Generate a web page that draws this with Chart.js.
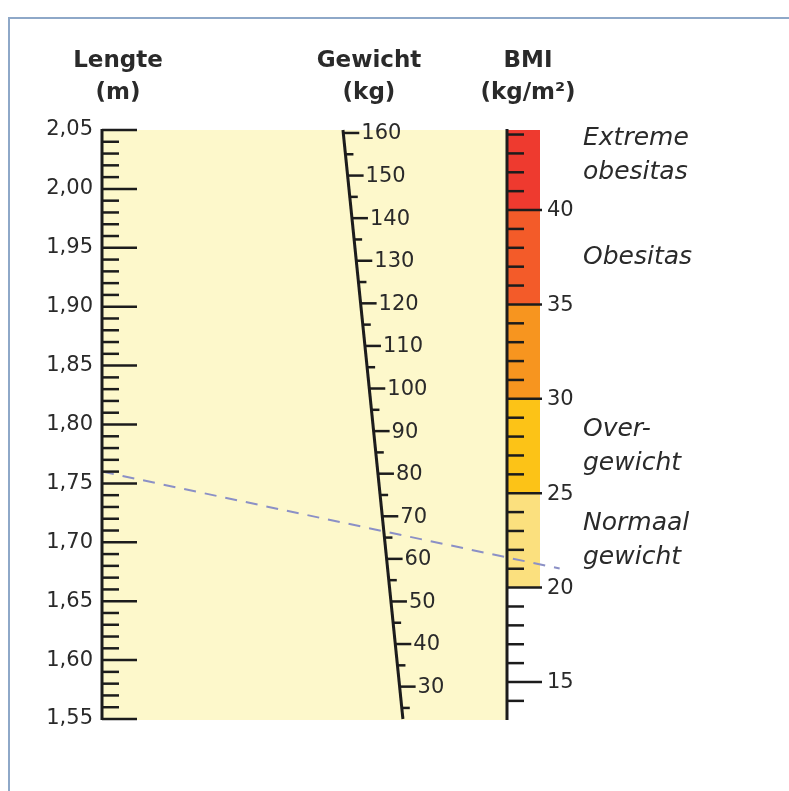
<!DOCTYPE html>
<html>
<head>
<meta charset="utf-8">
<script src="https://cdn.jsdelivr.net/npm/chart.js@4.4.1/dist/chart.umd.min.js"></script>
<style>
  body { margin: 0; background: #fff; }
  canvas { display: block; }
</style>
</head>
<body>
<canvas id="bmiChart" width="789" height="791"></canvas>
<script>
// schaalbereik van de drie assen
const lengteBereik = [1.55, 2.05];
const gewichtBereik = [22.4, 160.7];
const bmiBereik = [13.04, 44.24];

// tick labels
const lengteWaarden = [1.55, 1.6, 1.65, 1.7, 1.75, 1.8, 1.85, 1.9, 1.95, 2.0, 2.05];
const lengteLabels = ["1,55", "1,60", "1,65", "1,70", "1,75", "1,80", "1,85", "1,90", "1,95", "2,00", "2,05"];
const gewichtLabels = [30, 40, 50, 60, 70, 80, 90, 100, 110, 120, 130, 140, 150, 160];
const bmiLabels = [15, 20, 25, 30, 35, 40];

// BMI-klassen (banden in de balk)
const bandVan = [20, 25, 30, 35, 40];
const bandTot = [25, 30, 35, 40, 44.24];
const bandKleuren = ["#fbe07e", "#fcc317", "#f7951f", "#f35b29", "#ee3a2f"];
const bandTeksten = [["Normaal", "gewicht"], ["Over-", "gewicht"], [], ["Obesitas"], ["Extreme", "obesitas"]];

// voorbeeld (stippellijn)
const voorbeeldLengte = 1.76;
const voorbeeldBMI = 21.6;

// koppen
const koppen = [["Lengte", "(m)"], ["Gewicht", "(kg)"], ["BMI", "(kg/m²)"]];

const tekstKleur = "#2a2a2a";
const lijnKleur = "#1c1c1c";

const nomogramPlugin = {
  id: "nomogram",
  beforeDatasetsDraw(chart) {
    const { ctx, chartArea, scales } = chart;
    const { yBmi } = scales;
    ctx.save();
    ctx.fillStyle = "#fff";
    ctx.fillRect(0, 0, chart.width, chart.height);
    // kader
    ctx.strokeStyle = "#8ea8c8";
    ctx.lineWidth = 2;
    ctx.beginPath();
    ctx.moveTo(9, chart.height);
    ctx.lineTo(9, 18);
    ctx.lineTo(chart.width, 18);
    ctx.stroke();
    // lichtgeel vlak
    ctx.fillStyle = "#fdf8cb";
    ctx.fillRect(chartArea.left, chartArea.top, chartArea.right - chartArea.left, chartArea.bottom - chartArea.top + 1);
    // gekleurde BMI-balk
    bandVan.forEach((van, i) => {
      const y1 = yBmi.getPixelForValue(bandTot[i]);
      const y2 = yBmi.getPixelForValue(van);
      ctx.fillStyle = bandKleuren[i];
      ctx.fillRect(chartArea.right, y1, 33, y2 - y1);
    });
    // stippellijn
    const yStart = scales.yLengte.getPixelForValue(voorbeeldLengte);
    const yEind = yBmi.getPixelForValue(voorbeeldBMI);
    const xs = chartArea.left, xe = chartArea.right;
    const verleng = 1.13;
    ctx.strokeStyle = "#8b90c6";
    ctx.lineWidth = 2;
    ctx.setLineDash([12, 9]);
    ctx.beginPath();
    ctx.moveTo(xs, yStart);
    ctx.lineTo(xs + (xe - xs) * verleng, yStart + (yEind - yStart) * verleng);
    ctx.stroke();
    ctx.setLineDash([]);
    ctx.restore();
  },
  afterDatasetsDraw(chart) {
    const { ctx, chartArea, scales } = chart;
    const { x, yLengte, yGewicht, yBmi } = scales;
    const top = chartArea.top, bottom = chartArea.bottom;
    ctx.save();
    ctx.strokeStyle = lijnKleur;
    ctx.fillStyle = tekstKleur;
    ctx.lineCap = "butt";

    // lengte-as
    const xl = chartArea.left;
    ctx.lineWidth = 3;
    ctx.beginPath();
    ctx.moveTo(xl, top - 1);
    ctx.lineTo(xl, bottom + 1);
    ctx.stroke();
    ctx.lineWidth = 2.5;
    for (let cm = 155; cm <= 205; cm++) {
      const y = yLengte.getPixelForValue(cm / 100);
      ctx.beginPath();
      ctx.moveTo(xl, y);
      ctx.lineTo(xl + (cm % 5 === 0 ? 35 : 17), y);
      ctx.stroke();
    }
    ctx.font = "21px 'DejaVu Sans'";
    ctx.textAlign = "right";
    ctx.textBaseline = "middle";
    lengteWaarden.forEach((v, i) => {
      ctx.fillText(lengteLabels[i], xl - 9, yLengte.getPixelForValue(v));
    });

    // gewicht-as (lijn is dataset), ticks horizontaal
    const wTop = x.getPixelForValue(59.5), wBot = x.getPixelForValue(74.3);
    const gewichtX = (y) => wTop + (y - top) / (bottom - top) * (wBot - wTop);
    ctx.lineWidth = 2.5;
    for (let kg = 25; kg <= 160; kg += 5) {
      const y = yGewicht.getPixelForValue(kg);
      const gx = gewichtX(y);
      ctx.beginPath();
      ctx.moveTo(gx, y);
      ctx.lineTo(gx + (kg % 10 === 0 ? 16 : 8), y);
      ctx.stroke();
    }
    ctx.textAlign = "left";
    gewichtLabels.forEach((kg) => {
      const y = yGewicht.getPixelForValue(kg);
      ctx.fillText(String(kg), gewichtX(y) + 18, y + 1);
    });

    // BMI-as
    const xb = chartArea.right;
    ctx.lineWidth = 3;
    ctx.beginPath();
    ctx.moveTo(xb, top - 1);
    ctx.lineTo(xb, bottom + 1);
    ctx.stroke();
    ctx.lineWidth = 2.5;
    for (let b = 14; b <= 44; b++) {
      const y = yBmi.getPixelForValue(b);
      ctx.beginPath();
      ctx.moveTo(xb, y);
      ctx.lineTo(xb + (b % 5 === 0 ? 35 : 17), y);
      ctx.stroke();
    }
    bmiLabels.forEach((b) => {
      ctx.fillText(String(b), xb + 40, yBmi.getPixelForValue(b) + 1);
    });

    // klasse-teksten
    ctx.font = "oblique 25px 'DejaVu Sans'";
    bandTeksten.forEach((regels, i) => {
      if (!regels.length) return;
      let midden;
      if (bandTot[i] >= bmiBereik[1]) {
        midden = top + 8 + (regels.length - 1) * 17;
      } else {
        midden = yBmi.getPixelForValue((bandVan[i] + bandTot[i]) / 2);
      }
      regels.forEach((r, j) => {
        ctx.fillText(r, xb + 76, midden + (j - (regels.length - 1) / 2) * 34);
      });
    });

    // koppen
    ctx.font = "bold 23px 'DejaVu Sans'";
    ctx.textAlign = "center";
    const kopX = [xl + 16, (wTop + 26), xb + 21];
    koppen.forEach((regels, i) => {
      regels.forEach((r, j) => {
        ctx.fillText(r, kopX[i], 61 + j * 32);
      });
    });
    ctx.restore();
  }
};

new Chart(document.getElementById("bmiChart"), {
  type: "scatter",
  data: {
    datasets: [
      {
        label: "Gewicht-as",
        type: "line",
        yAxisID: "yGewicht",
        data: [{ x: 59.5, y: gewichtBereik[1] }, { x: 74.3, y: gewichtBereik[0] }],
        borderColor: lijnKleur,
        borderWidth: 3,
        pointRadius: 0,
        clip: false,
      },
    ],
  },
  options: {
    responsive: false,
    animation: false,
    devicePixelRatio: 1,
    layout: { padding: { left: 102, right: 282, top: 130, bottom: 72 } },
    plugins: { legend: { display: false }, tooltip: { enabled: false } },
    scales: {
      x: { type: "linear", min: 0, max: 100, display: false },
      yLengte: { type: "linear", min: lengteBereik[0], max: lengteBereik[1], display: false },
      yGewicht: { type: "linear", min: gewichtBereik[0], max: gewichtBereik[1], display: false },
      yBmi: { type: "linear", min: bmiBereik[0], max: bmiBereik[1], display: false },
    },
  },
  plugins: [nomogramPlugin],
});
</script>
</body>
</html>
